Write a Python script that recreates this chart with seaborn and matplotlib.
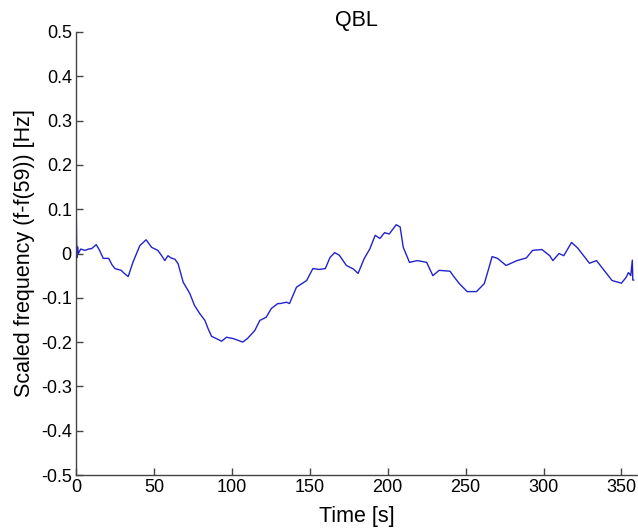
import matplotlib
matplotlib.use("Agg")
import matplotlib.pyplot as plt
import seaborn as sns
import pandas as pd

time_s = [0, 0.2, 0.5, 1, 1.5, 3, 5.8, 8, 10, 13, 15, 17.5, 21, 23, 25, 29, 31, 33.5,
          36.5, 41, 45, 48.5, 52.5, 55, 57, 59, 61, 63.5, 65.5, 68.8, 73, 76, 79.5,
          82.7, 84.8, 87, 90, 93.4, 96.6, 100.8, 104, 107, 110, 114.7, 118, 122,
          125.4, 129.5, 131, 135, 137, 141.5, 148, 152, 156, 160, 163, 166, 169,
          173.5, 178, 181, 185, 188.5, 192, 195, 198, 201, 205.5, 208, 210, 214,
          219, 225, 229, 233, 240, 242, 246, 251, 257, 262, 265, 267, 270.5, 276,
          283, 289, 293, 299, 304, 306, 310, 313, 318, 322, 329.5, 334, 340, 344,
          350, 353, 354.5, 356, 357, 357.3, 358]
freq = [0.0, 0.08, -0.01, 0.015, 0.0, 0.01, 0.007, 0.01, 0.011, 0.02, 0.008, -0.011,
        -0.011, -0.025, -0.034, -0.038, -0.045, -0.052, -0.02, 0.018, 0.031, 0.014,
        0.007, -0.005, -0.016, -0.005, -0.01, -0.013, -0.023, -0.065, -0.09, -0.117,
        -0.136, -0.151, -0.17, -0.187, -0.192, -0.198, -0.189, -0.192, -0.196, -0.2,
        -0.192, -0.174, -0.151, -0.144, -0.124, -0.113, -0.113, -0.11, -0.113,
        -0.076, -0.061, -0.034, -0.036, -0.034, -0.009, 0.002, -0.004, -0.027,
        -0.035, -0.045, -0.011, 0.01, 0.041, 0.034, 0.047, 0.044, 0.065, 0.06,
        0.014, -0.02, -0.016, -0.02, -0.05, -0.038, -0.04, -0.05, -0.068, -0.086,
        -0.086, -0.068, -0.032, -0.007, -0.011, -0.027, -0.016, -0.01, 0.007, 0.009,
        -0.005, -0.016, 0.0, -0.005, 0.025, 0.012, -0.022, -0.016, -0.043, -0.061,
        -0.067, -0.054, -0.043, -0.05, -0.015, -0.06, -0.06]

x_ticks = [0, 50, 100, 150, 200, 250, 300, 350]
y_ticks = [-0.5, -0.4, -0.3, -0.2, -0.1, 0, 0.1, 0.2, 0.3, 0.4, 0.5]
y_tick_labels = ["-0.5", "-0.4", "-0.3", "-0.2", "-0.1", "0", "0.1", "0.2", "0.3", "0.4", "0.5"]

sns.set_style("ticks")
plt.rcParams['font.family'] = ['Liberation Sans', 'DejaVu Sans']
plt.rcParams['axes.unicode_minus'] = False
plt.rcParams['text.color'] = 'black'
plt.rcParams['axes.labelcolor'] = 'black'

df = pd.DataFrame({"t": time_s, "f": freq})

fig = plt.figure(figsize=(6.38, 5.30), dpi=100)
ax = fig.add_axes([76/638, 55/530, (637-76)/638, (475-32)/530])
sns.lineplot(data=df, x="t", y="f", ax=ax, color="#2222cc", linewidth=1.0,
             sort=False, estimator=None)

ax.set_xlim(0, 360)
ax.set_ylim(-0.5, 0.5)
ax.set_xticks(x_ticks)
ax.set_xticklabels([str(v) for v in x_ticks])
ax.set_yticks(y_ticks)
ax.set_yticklabels(y_tick_labels)
ax.tick_params(direction="in", length=5, width=1, colors="#444444",
               labelcolor="black", labelsize=13)
ax.tick_params(axis="x", pad=3)
ax.tick_params(axis="y", pad=3)
for s in ["top", "right"]:
    ax.spines[s].set_visible(False)
for s in ["left", "bottom"]:
    ax.spines[s].set_color("#444444")
    ax.spines[s].set_linewidth(1.0)

ax.set_xlabel("Time [s]", fontsize=15.5, labelpad=7, color="black")
ax.set_ylabel("Scaled frequency (f-f(59)) [Hz]", fontsize=15.5, labelpad=4, color="black")
ax.set_title("QBL", fontsize=15.5, pad=4, color="black")

fig.savefig("out.png", dpi=100)
